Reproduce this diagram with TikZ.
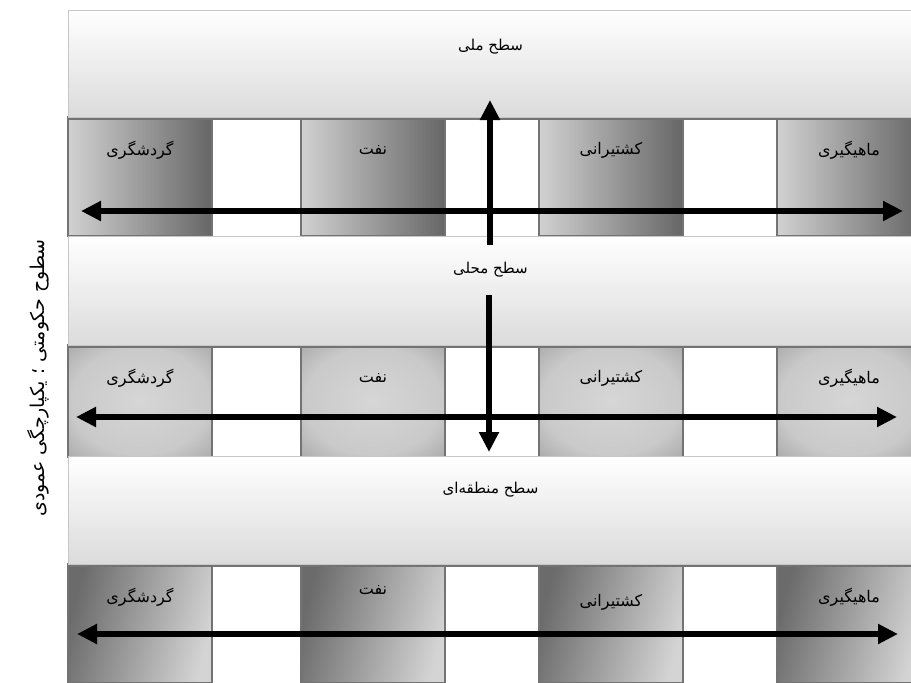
\documentclass[tikz,border=0pt]{standalone}
\usepackage{fontspec}
\usepackage{tikz}
\usetikzlibrary{arrows.meta,positioning,calc,shadows}
\newfontfamily\farsifont[Script=Arabic]{DejaVu Sans}
\TeXXeTstate=1
\pgfdeclareradialshading{colglow}{\pgfpoint{0bp}{0bp}}{color(0bp)=(black!16); color(24bp)=(black!21); color(50bp)=(black!48)}

\begin{document}
\begin{tikzpicture}[x=1pt,y=-1pt,
  txt/.style={font=\farsifont\fontsize{15}{18}\selectfont,text=black},
  band/.style={draw=black!22,line width=1pt,top color=white,bottom color=black!14,
               minimum width=845pt,anchor=north west,inner sep=0pt,outer sep=0pt,
               drop shadow={shadow xshift=0pt,shadow yshift=-3pt,fill=black!55,opacity=1}},
  colbox/.style={draw=black!55,line width=1.5pt,minimum width=144pt,anchor=north west,
                 inner sep=0pt,outer sep=0pt},
  rowA/.style={colbox,minimum height=119pt,left color=black!18,right color=black!60},
  rowB/.style={colbox,minimum height=112pt,shading=colglow},
  rowC/.style={colbox,minimum height=119pt,left color=black!58,right color=black!17,shading angle=75},
  lbl/.style={txt,font=\farsifont\fontsize{16}{19}\selectfont,anchor=center,yshift=-33pt},
  bigarrow/.style={line width=6pt},
  >={Triangle[length=20pt,width=19pt]}]
\useasboundingbox (0,0) rectangle (911,683);
% sector columns, three rows
\node[rowA,label={[lbl]north:\beginR گردشگری\endR}]  (tourA) at (68,117) {};
\node[rowA,label={[lbl]north:\beginR نفت\endR}]      (oilA)  at (301,117) {};
\node[rowA,label={[lbl]north:\beginR کشتیرانی\endR}] (shipA) at (539,117) {};
\node[rowA,label={[lbl]north:\beginR ماهیگیری\endR}] (fishA) at (777,117) {};
\node[rowB,label={[lbl]north:\beginR گردشگری\endR}]  (tourB) at (68,345) {};
\node[rowB,label={[lbl]north:\beginR نفت\endR}]      (oilB)  at (301,345) {};
\node[rowB,label={[lbl]north:\beginR کشتیرانی\endR}] (shipB) at (539,345) {};
\node[rowB,label={[lbl]north:\beginR ماهیگیری\endR}] (fishB) at (777,345) {};
\node[rowC,label={[lbl]north:\beginR گردشگری\endR}]  (tourC) at (68,564) {};
\node[rowC,label={[lbl,yshift=7pt]north:\beginR نفت\endR}] (oilC) at (301,564) {};
\node[rowC,label={[lbl,yshift=-5pt]north:\beginR کشتیرانی\endR}] (shipC) at (539,564) {};
\node[rowC,label={[lbl]north:\beginR ماهیگیری\endR}] (fishC) at (777,564) {};
% government levels
\node[band,minimum height=107pt,label={[txt,anchor=center,yshift=-37pt]north:\beginR سطح ملی\endR}] (national) at (68,10) {};
\node[band,minimum height=109pt,label={[txt,anchor=center,yshift=-34pt]north:\beginR سطح محلی\endR}] (local) at (68,236) {};
\node[band,minimum height=108pt,label={[txt,anchor=center,yshift=-34pt]north:\beginR سطح منطقه‌ای\endR}] (regional) at (68,456) {};
% arrow ends
\coordinate (rowAw) at (81,211);  \coordinate (rowAe) at (903,211);
\coordinate (rowBw) at (76,417);  \coordinate (rowBe) at (897,417);
\coordinate (rowCw) at (77,634);  \coordinate (rowCe) at (898,634);
\coordinate (upS) at (490,245);   \coordinate (upE) at (490,100);
\coordinate (dnS) at (489,295);   \coordinate (dnE) at (489,452);
\draw[bigarrow,<->] (rowAw) -- (rowAe);
\draw[bigarrow,<->] (rowBw) -- (rowBe);
\draw[bigarrow,<->] (rowCw) -- (rowCe);
\draw[bigarrow,->] (upS) -- (upE);
\draw[bigarrow,->] (dnS) -- (dnE);
\node[txt,font=\farsifont\fontsize{19}{22}\selectfont,rotate=90] (axis) at (38,378) {\beginR سطوح حکومتی ؛ یکپارچگی عمودی\endR};
\end{tikzpicture}
\end{document}
